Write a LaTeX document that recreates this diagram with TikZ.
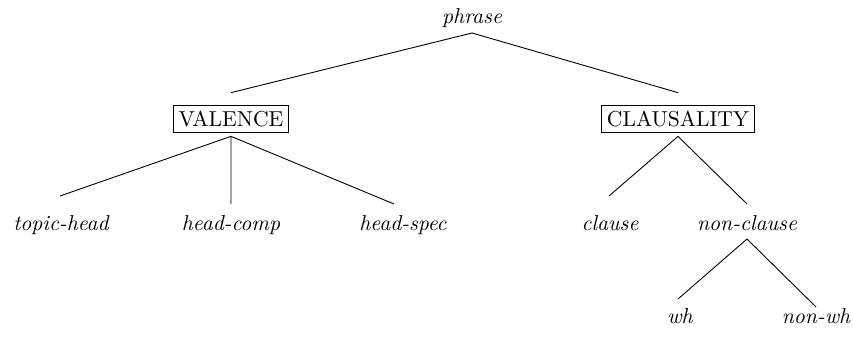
\documentclass[tikz,border=0pt]{standalone}
\newcommand\bigit[1]{\scalebox{2.16}{\itshape #1}}
\newcommand\bigrm[1]{\scalebox{2.16}{#1}}
\begin{document}
\begin{tikzpicture}[x=1pt,y=-1pt,
  lbl/.style={anchor=base, inner sep=0pt},
  typebox/.style={draw, line width=1.1pt, text height=15pt, text depth=0pt, inner xsep=5.5pt, inner ysep=6.3pt},
  edge/.style={line width=0.9pt}]
\useasboundingbox (0,0) rectangle (853,339);
\node[lbl] (ph) at (472,24) {\bigit{phrase}};
\node[typebox] (val) at (231,119) {\bigrm{VALENCE}};
\node[typebox] (cla) at (678,119) {\bigrm{CLAUSALITY}};
\node[lbl] (th) at (61,230) {\bigit{topic-head}};
\node[lbl] (hc) at (231,230) {\bigit{head-comp}};
\node[lbl] (hs) at (403,230) {\bigit{head-spec}};
\node[lbl] (cl) at (610,230) {\bigit{clause}};
\node[lbl] (nc) at (747,230) {\bigit{non-clause}};
\node[lbl] (wh) at (680,323) {\bigit{wh}};
\node[lbl] (nw) at (816,323) {\bigit{non-wh}};
\draw[edge] ([yshift=12pt]val.north) -- ([yshift=-9pt]ph.base) -- ([yshift=12pt]cla.north);
\draw[edge] ([yshift=34pt,xshift=-1pt]th.base) -- ([yshift=-3pt]val.south) -- ([yshift=26pt]hc.base);
\draw[edge] ([yshift=-3pt]val.south) -- ([yshift=26pt,xshift=-9pt]hs.base);
\draw[edge] ([yshift=34pt,xshift=-1pt]cl.base) -- ([yshift=-3pt]cla.south) -- ([yshift=26pt]nc.base);
\draw[edge] ([yshift=24pt,xshift=-2pt]wh.base) -- ([yshift=-9pt]nc.base) -- ([yshift=16pt]nw.base);
\end{tikzpicture}
\end{document}
